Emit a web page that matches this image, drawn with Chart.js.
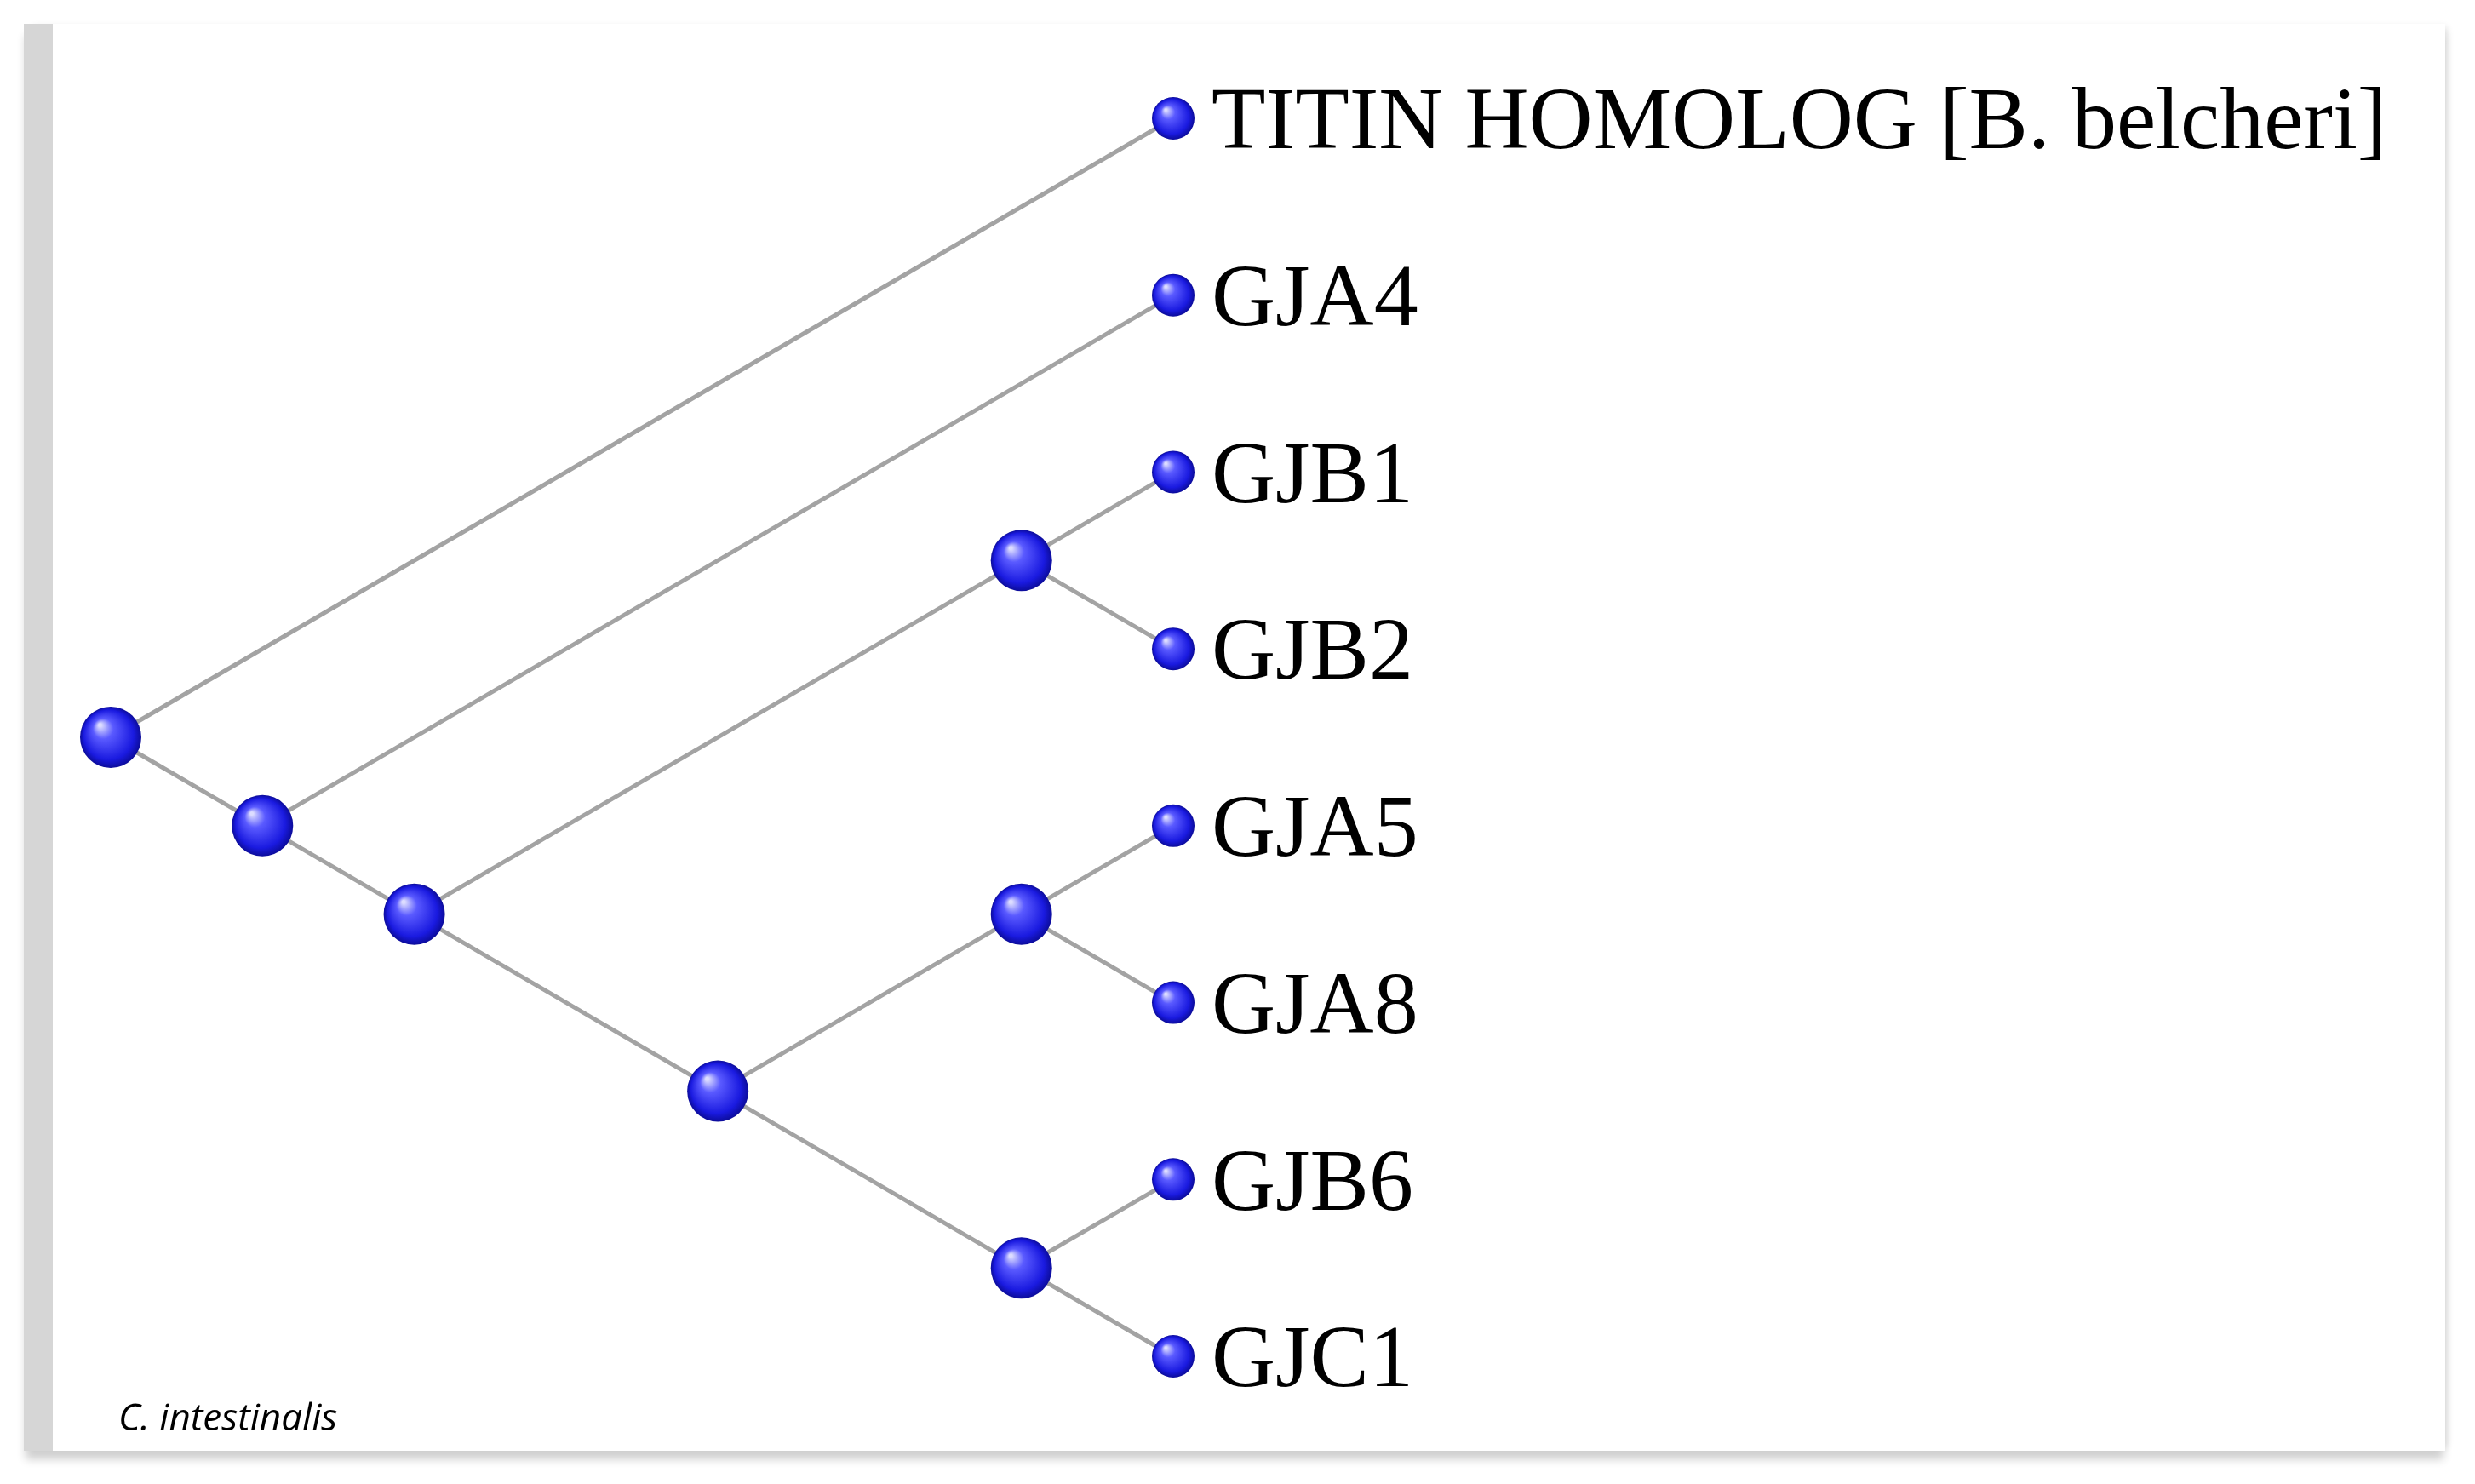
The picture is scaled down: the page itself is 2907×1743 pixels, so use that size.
<!DOCTYPE html>
<html>
<head>
<meta charset="utf-8">
<script src="https://cdn.jsdelivr.net/npm/chart.js@4/dist/chart.umd.min.js"></script>
<style>
  html, body { margin: 0; padding: 0; background: #fff; }
  #wrap { position: relative; width: 2907px; height: 1743px; }
  #panel {
    position: absolute; left: 28px; top: 28px; width: 2810px; height: 1676px;
    background: #fff; border-left: 34px solid #d6d6d6;
    box-shadow: 0 12px 10px -2px #cfcfcf, 6px 0 8px -4px #dcdcdc;
  }
  canvas { position: absolute; left: 0; top: 0; }
</style>
</head>
<body>
<div id="wrap">
  <div id="panel"></div>
  <canvas id="tree" width="2907" height="1743"></canvas>
</div>
<script>
// Tree layout: leaves at depth 7, rows 0..7
const leafLabels = ['TITIN HOMOLOG [B. belcheri]', 'GJA4', 'GJB1', 'GJB2', 'GJA5', 'GJA8', 'GJB6', 'GJC1'];
// node 0..7 are leaves, 8.. internal
const nodeX = [7, 7, 7, 7, 7, 7, 7, 7, 0, 1, 2, 6, 4, 6, 6];
const nodeY = [0, 1, 2, 3, 4, 5, 6, 7, 3.5, 4, 4.5, 2.5, 5.5, 4.5, 6.5];
const parentOf = [8, 9, 11, 11, 13, 13, 14, 14, -1, 8, 9, 10, 10, 12, 12];
const caption = 'C. intestinalis';

const edgeSets = [];
parentOf.forEach((p, i) => {
  if (p < 0) return;
  edgeSets.push({
    type: 'line',
    data: [{ x: nodeX[p], y: nodeY[p] }, { x: nodeX[i], y: nodeY[i] }],
    borderColor: '#a3a3a3', borderWidth: 5, pointRadius: 0, showLine: true, order: 2
  });
});

const ballRadius = nodeX.map((x, i) => i < 8 ? 25 : 36);

const ballPlugin = {
  id: 'balls',
  afterDatasetsDraw(chart) {
    const c = chart.ctx;
    const meta = chart.getDatasetMeta(chart.data.datasets.length - 1);
    c.save();
    meta.data.forEach((pt, i) => {
      const r = ballRadius[i];
      const g = c.createRadialGradient(pt.x - r * 0.35, pt.y - r * 0.4, r * 0.05, pt.x, pt.y, r);
      g.addColorStop(0, '#dcdcff');
      g.addColorStop(0.3, '#5a5aff');
      g.addColorStop(0.8, '#1a1ae0');
      g.addColorStop(1, '#0c0c9a');
      c.fillStyle = g;
      c.beginPath();
      c.arc(pt.x, pt.y, r, 0, Math.PI * 2);
      c.fill();
    });
    c.fillStyle = '#000';
    c.font = '104px "Liberation Serif", "DejaVu Serif", serif';
    c.textBaseline = 'middle';
    leafLabels.forEach((t, i) => {
      const pt = meta.data[i];
      c.fillText(t, pt.x + 45, pt.y + 8);
    });
    c.font = 'italic 44px "Open Sans", "Noto Sans", sans-serif';
    c.textBaseline = 'alphabetic';
    c.fillText(caption, 139, 1680);
    c.restore();
  }
};

new Chart(document.getElementById('tree'), {
  type: 'scatter',
  data: {
    datasets: edgeSets.concat([{
      data: nodeX.map((x, i) => ({ x: x, y: nodeY[i] })),
      pointRadius: 0,
      backgroundColor: 'rgba(0,0,0,0)',
      borderWidth: 0,
      order: 1
    }])
  },
  options: {
    responsive: false,
    animation: false,
    layout: { padding: { left: 130, right: 1529, top: 139, bottom: 150 } },
    scales: {
      x: { display: false, min: 0, max: 7 },
      y: { display: false, min: 0, max: 7, reverse: true }
    },
    plugins: { legend: { display: false }, tooltip: { enabled: false } },
    clip: false
  },
  plugins: [ballPlugin]
});
</script>
</body>
</html>
